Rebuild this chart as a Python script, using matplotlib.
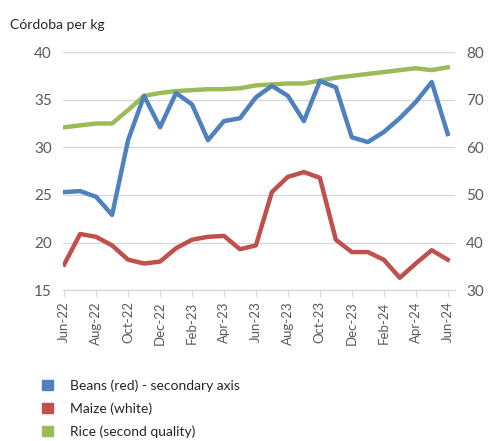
import matplotlib.pyplot as plt
from matplotlib.patches import Patch
import numpy as np

plt.rcParams['font.family'] = ['Lato', 'DejaVu Sans']

months = ['Jun-22', 'Jul-22', 'Aug-22', 'Sep-22', 'Oct-22', 'Nov-22', 'Dec-22',
          'Jan-23', 'Feb-23', 'Mar-23', 'Apr-23', 'May-23', 'Jun-23', 'Jul-23',
          'Aug-23', 'Sep-23', 'Oct-23', 'Nov-23', 'Dec-23', 'Jan-24', 'Feb-24',
          'Mar-24', 'Apr-24', 'May-24', 'Jun-24']

# beans on the secondary (right) axis
beans = [50.6, 50.8, 49.6, 45.8, 61.5, 70.8, 64.2, 71.4, 69.0, 61.5, 65.5, 66.1,
         70.5, 72.9, 70.8, 65.5, 73.9, 72.6, 62.1, 61.1, 63.2, 66.1, 69.5, 73.7, 62.8]
maize = [17.7, 20.9, 20.6, 19.7, 18.2, 17.8, 18.0, 19.4, 20.3, 20.6, 20.7, 19.3,
         19.7, 25.3, 26.9, 27.4, 26.8, 20.3, 19.0, 19.0, 18.2, 16.3, 17.8, 19.2, 18.2]
rice = [32.1, 32.3, 32.5, 32.5, 33.9, 35.4, 35.7, 35.9, 36.0, 36.1, 36.1, 36.2,
        36.5, 36.6, 36.7, 36.7, 37.0, 37.3, 37.5, 37.7, 37.9, 38.1, 38.3, 38.1, 38.4]

labels = ['Beans (red) - secondary axis', 'Maize (white)', 'Rice (second quality)']
colors = ['#4F81BD', '#C0504D', '#9BBB59']
text_col = '#595959'
grid_col = '#D9D9D9'

x = np.arange(len(months))

fig = plt.figure(figsize=(4.95, 4.41), dpi=100)
ax = fig.add_axes([0.127, 0.342, 0.792, 0.540])
ax2 = ax.twinx()

ax.plot(x, maize, color=colors[1], lw=3.2, zorder=3)
ax.plot(x, rice, color=colors[2], lw=3.2, zorder=3)
ax2.plot(x, beans, color=colors[0], lw=3.2, zorder=3)

ax.set_ylim(15, 40)
ax.set_yticks(np.arange(15, 41, 5))
ax2.set_ylim(30, 80)
ax2.set_yticks(np.arange(30, 81, 10))
ax.set_xlim(-0.08, 24.45)
ax.set_xticks(x[::2])
ax.set_xticklabels(months[::2], rotation=90)
ax.grid(axis='y', color=grid_col, lw=1)
ax.set_axisbelow(True)

for a in (ax, ax2):
    for s in ('top', 'left', 'right'):
        a.spines[s].set_visible(False)
    a.spines['bottom'].set_color(grid_col)
    a.tick_params(axis='y', length=0, labelsize=11, labelcolor=text_col, pad=8)
ax.tick_params(axis='x', length=5, color=grid_col, labelsize=9.5, labelcolor=text_col, pad=3)

fig.text(0.02, 0.935, 'Córdoba per kg', fontsize=10, color='#262626')

handles = [Patch(color=c) for c in colors]
fig.legend(handles, labels, loc='upper left', bbox_to_anchor=(0.06, 0.168),
           frameon=False, fontsize=10, handlelength=0.8, handleheight=0.8,
           labelspacing=0.75, handletextpad=1.2, labelcolor='#262626')

fig.savefig('out.png', dpi=100)
